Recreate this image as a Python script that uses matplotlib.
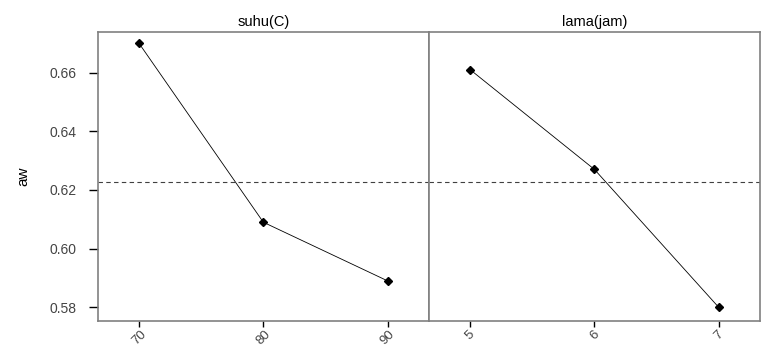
import numpy as np
import matplotlib.pyplot as plt

plt.rcParams['font.family'] = ['Liberation Sans', 'DejaVu Sans']

suhu = [70, 80, 90]
suhu_aw = [0.670, 0.609, 0.589]
lama = [5, 6, 7]
lama_aw = [0.661, 0.627, 0.580]
yticks = [0.58, 0.60, 0.62, 0.64, 0.66]

mean_aw = np.mean(suhu_aw)

fig = plt.figure(figsize=(7.76, 3.49), dpi=100)
ax1 = fig.add_axes([0.1259, 0.0802, 0.4269, 0.8281])
ax2 = fig.add_axes([0.5528, 0.0802, 0.4266, 0.8281], sharey=ax1)

spine_col = '#808080'
text_col = '#444444'

for ax, x, y, title in [(ax1, suhu, suhu_aw, 'suhu(C)'), (ax2, lama, lama_aw, 'lama(jam)')]:
    ax.plot(x, y, color='black', lw=0.6, marker='D', ms=4.5, mfc='black', mec='black')
    ax.axhline(mean_aw, color='#404040', lw=0.8, ls=(0, (4, 3)))
    step = x[1] - x[0]
    ax.set_xlim(x[0] - step / 3, x[-1] + step / 3)
    ax.set_xticks(x)
    ax.set_xticklabels([str(v) for v in x], rotation=45, ha='center', fontsize=9.5, color=text_col)
    ax.set_title(title, fontsize=10.5, color='black', pad=4)
    for s in ax.spines.values():
        s.set_color(spine_col)
        s.set_linewidth(1.2)
    ax.tick_params(axis='x', length=4.5, width=1, color='black', pad=1)

ax1.set_ylim(0.5753, 0.6739)
ax1.set_yticks(yticks)
ax1.set_yticklabels(['%.2f' % v for v in yticks], fontsize=10, color=text_col)
ax1.tick_params(axis='y', length=6.5, width=1, color='black', pad=8.5)
ax1.set_ylabel('aw', fontsize=11, color='black', labelpad=14)
ax2.tick_params(axis='y', left=False, labelleft=False)

fig.savefig('out.png', dpi=100, facecolor='white')
